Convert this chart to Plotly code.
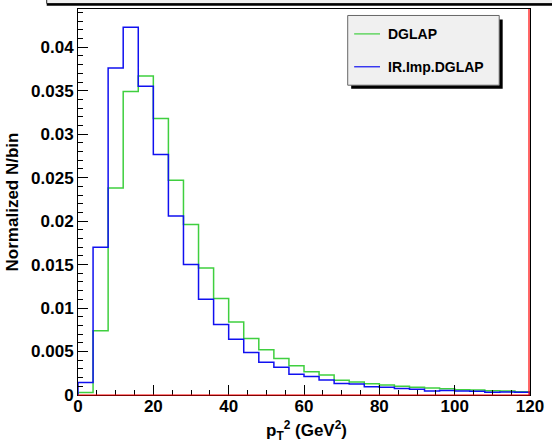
import plotly.graph_objects as go

# ---- data ----
bin_edges = list(range(0, 124, 4))  # 0..120, width 4
dglap = [0.0003, 0.0074, 0.0238, 0.0349, 0.0367, 0.0318, 0.0247, 0.0196, 0.0146, 0.0111,
         0.0084, 0.0065, 0.0052, 0.0042, 0.00336, 0.00267, 0.0023, 0.0017, 0.0015, 0.0013,
         0.00114, 0.0010, 0.00088, 0.0008, 0.00072, 0.0006, 0.00057, 0.0005, 0.00046, 0.00038]
ir_imp_dglap = [0.00145, 0.0170, 0.0376, 0.0423, 0.0355, 0.02765, 0.0206, 0.0150, 0.0110, 0.0081,
                0.0064, 0.0049, 0.00376, 0.0032, 0.0024, 0.00213, 0.00172, 0.00133, 0.00126, 0.00095,
                0.00088, 0.00076, 0.00065, 0.00046, 0.00053, 0.00046, 0.00042, 0.00031, 0.00035, 0.00031]
series_names = ["DGLAP", "IR.Imp.DGLAP"]
series_colors = ["#3fcf3f", "#1010f0"]
x_title = "p<sub>T</sub><sup>2</sup> (GeV<sup>2</sup>)"
y_title = "Normalized N/bin"

W, H = 552, 443
L, R, T, B = 78, 533, 7.5, 395  # plot area pixels


def step_xy(edges, vals):
    xs = [edges[0]] + edges[:-1] + [edges[-1], edges[-1]]
    ys = [0] + vals + [vals[-1], 0]
    return xs, ys


fig = go.Figure()
for name, vals, col in zip(series_names, [dglap, ir_imp_dglap], series_colors):
    xs, ys = step_xy(bin_edges, vals)
    fig.add_trace(go.Scatter(x=xs, y=ys, mode="lines", line=dict(color=col, width=1.5, shape="hv"),
                             name=name, showlegend=False, hoverinfo="skip"))

FAM = "Liberation Sans, Arial, sans-serif"
bold = dict(family=FAM, size=17, color="black", weight="bold")

fig.update_layout(
    width=W, height=H,
    margin=dict(l=L, r=W - R, t=T, b=H - B),
    paper_bgcolor="white", plot_bgcolor="white",
    font=bold,
    xaxis=dict(range=[0, 120], dtick=20, tick0=0, ticks="inside", ticklen=10, tickwidth=1,
               tickcolor="black", showgrid=False, zeroline=False, showline=True, linecolor="black",
               linewidth=1, mirror=True, tickfont=bold, ticklabelstandoff=-4,
               minor=dict(dtick=5, ticks="inside", ticklen=5, tickcolor="black", showgrid=False)),
    yaxis=dict(range=[0, 0.0444], dtick=0.005, tick0=0, ticks="inside", ticklen=10, tickwidth=1,
               tickcolor="black", showgrid=False, zeroline=False, showline=True, linecolor="black",
               linewidth=1, mirror=True, tickfont=bold, tickformat="~g",
               minor=dict(dtick=0.001, ticks="inside", ticklen=5, tickcolor="black", showgrid=False),
               title=dict(text=y_title, font=bold, standoff=8)),
)


def px(X):
    return (X - L) / (R - L)


def py(Y):
    return (B - Y) / (B - T)


# x-axis title as annotation
fig.add_annotation(xref="paper", yref="paper", x=px(308), y=py(431), text=x_title, showarrow=False,
                   xanchor="center", yanchor="middle", font=bold)

shapes = []
# red zero line and right edge
shapes.append(dict(type="line", xref="paper", yref="paper", x0=0, x1=1, y0=0, y1=0,
                   line=dict(color="red", width=1.2)))
shapes.append(dict(type="line", xref="paper", yref="paper", x0=px(532), x1=px(532), y0=0, y1=1,
                   line=dict(color="red", width=1.2)))
# top pave (cut off)
shapes.append(dict(type="rect", xref="paper", yref="paper", x0=px(46.5), x1=px(560), y0=py(-10), y1=py(2),
                   fillcolor="#f0f0f0", line=dict(color="#222", width=1), layer="above"))
shapes.append(dict(type="line", xref="paper", yref="paper", x0=px(46.5), x1=px(560), y0=py(3.2), y1=py(3.2),
                   line=dict(color="black", width=2), layer="above"))
# legend shadow and box
shapes.append(dict(type="rect", xref="paper", yref="paper", x0=px(353), x1=px(505.5), y0=py(87.5), y1=py(18),
                   fillcolor="black", line=dict(width=0), layer="above"))
shapes.append(dict(type="rect", xref="paper", yref="paper", x0=px(349.5), x1=px(502), y0=py(84), y1=py(14),
                   fillcolor="#f0f0f0", line=dict(color="#666", width=1), layer="above"))
for i, (name, col) in enumerate(zip(series_names, series_colors)):
    yy = 32.5 + i * 33
    shapes.append(dict(type="line", xref="paper", yref="paper", x0=px(356), x1=px(382), y0=py(yy), y1=py(yy),
                       line=dict(color=col, width=1.2), layer="above"))
    fig.add_annotation(xref="paper", yref="paper", x=px(388), y=py(yy), text=name, showarrow=False,
                       xanchor="left", yanchor="middle",
                       font=dict(family=FAM, size=14, color="black", weight="bold"))
fig.update_layout(shapes=shapes)

fig.write_html("out.html", config={"displayModeBar": False},
               post_script="document.body.style.margin='0';")
